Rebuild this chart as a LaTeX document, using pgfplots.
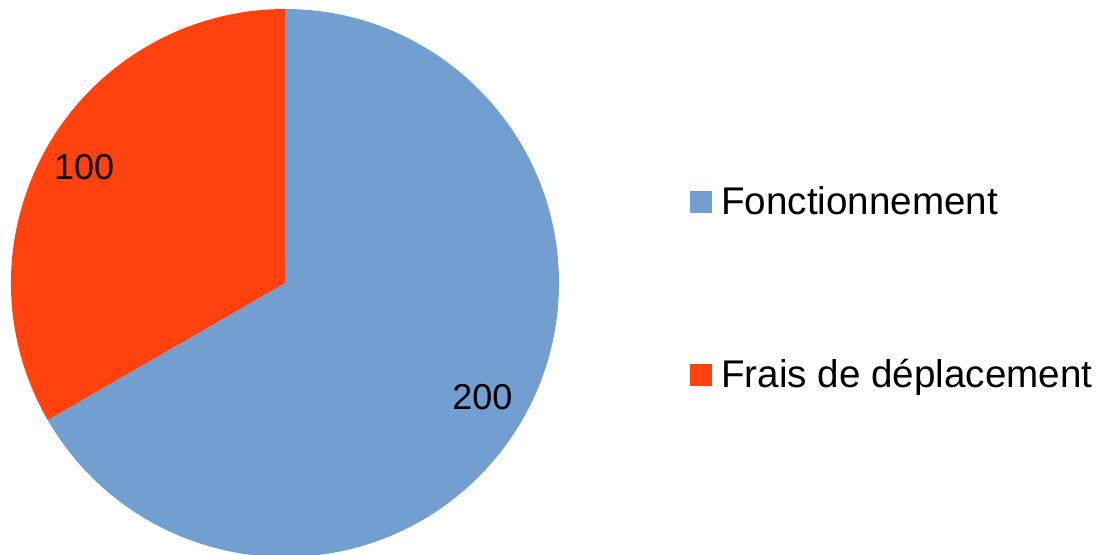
\documentclass[border=0pt]{standalone}
\usepackage{fontspec}
\setmainfont{Liberation Sans}
\usepackage{pgfplots}
\usepackage{pgfplotstable}
\pgfplotsset{compat=1.18}

\definecolor{fonct}{HTML}{729FCF}
\definecolor{frais}{HTML}{FF420E}

% part values
\pgfplotstableread{
label value
Fonctionnement 200
Frais 100
}\piedata

\pgfplotstablegetelem{0}{value}\of\piedata \let\va\pgfplotsretval
\pgfplotstablegetelem{1}{value}\of\piedata \let\vb\pgfplotsretval
\pgfmathsetmacro{\tot}{\va+\vb}
\pgfmathsetmacro{\aa}{90}
\pgfmathsetmacro{\ab}{90-360*(\va/\tot)}
\pgfmathsetmacro{\ac}{\ab-360*(\vb/\tot)}
\pgfmathsetmacro{\ma}{(\aa+\ab)/2}
\pgfmathsetmacro{\mb}{(\ab+\ac)/2}

\begin{document}
\begin{tikzpicture}
\begin{axis}[
    scale only axis,
    width=549.5pt, height=277pt,
    xmin=0, xmax=1099, ymin=0, ymax=554,
    y dir=reverse,
    hide axis,
    legend style={
        draw=none, fill=none,
        at={(axis cs:690,182)}, anchor=north west,
        inner sep=0pt,
        row sep=67pt,
        column sep=2.5pt,
        cells={anchor=west},
        font=\fontsize{19.3}{23}\selectfont,
    },
    legend image code/.code={\fill[#1, draw=none] (0pt,-5.5pt) rectangle (11pt,5.5pt);},
]
\addlegendimage{fill=fonct}
\addlegendentry{Fonctionnement}
\addlegendimage{fill=frais}
\addlegendentry{Frais de déplacement}

\fill[fonct] (axis cs:285,283) -- ++(\aa:137pt) arc[start angle=\aa, end angle=\ab, radius=137pt] -- cycle;
\fill[frais] (axis cs:285,283) -- ++(\ab:137pt) arc[start angle=\ab, end angle=\ac, radius=137pt] -- cycle;

\path (axis cs:285,283) ++(\ma:114pt) node[font=\fontsize{18}{21.6}\selectfont] {\pgfmathprintnumber[assume math mode=true]{\va}};
\path (axis cs:285,283) ++(\mb:116pt) node[font=\fontsize{18}{21.6}\selectfont] {\pgfmathprintnumber[assume math mode=true]{\vb}};
\end{axis}
\pgfresetboundingbox
\path (current axis.south west) rectangle (current axis.north east);
\end{tikzpicture}
\end{document}
